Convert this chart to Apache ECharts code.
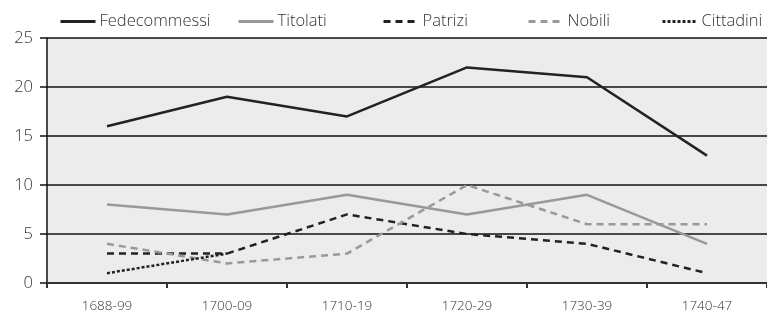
<!DOCTYPE html>
<html><head><meta charset="utf-8">
<script src="https://cdn.jsdelivr.net/npm/echarts@6/dist/echarts.min.js"></script>
<style>html,body{margin:0;padding:0;background:#fff}#c{width:767px;height:314px}</style>
</head><body><div id="c"></div>
<script>
const categories = ['1688-99','1700-09','1710-19','1720-29','1730-39','1740-47'];
const fedecommessi = [16, 19, 17, 22, 21, 13];
const titolati = [8, 7, 9, 7, 9, 4];
const patrizi = [3, 3, 7, 5, 4, 1];
const nobili = [4, 2, 3, 10, 6, 6];
const cittadini = [1, 3, null, null, null, null];
const yTicks = [0, 5, 10, 15, 20, 25];

const names = ['Fedecommessi','Titolati','Patrizi','Nobili','Cittadini'];
const legendLeft = [54, 232, 377, 522, 656];
const font = 'Open Sans';

function mk(name, data, color, type) {
  return { name, type: 'line', data, symbol: 'none', connectNulls: false,
    lineStyle: { color, width: 2.5, type }, itemStyle: { color } };
}
const chart = echarts.init(document.getElementById('c'));
chart.setOption({
  animation: false,
  backgroundColor: '#fff',
  legend: names.map((n, i) => ({
    data: [n], left: legendLeft[i], top: 8, itemWidth: 35, itemHeight: 10, itemGap: 0,
    itemStyle: { opacity: 0 },
    lineStyle: { width: 3 },
    textStyle: { fontFamily: font, fontSize: 16.5, fontWeight: 300, color: '#333', padding: [0,0,0,-1] }
  })),
  grid: { left: 47, top: 38, width: 726, height: 245, backgroundColor: '#ececec', show: true, borderWidth: 0 },
  xAxis: {
    type: 'category', data: categories, boundaryGap: true,
    axisLine: { lineStyle: { color: '#333', width: 2 } },
    axisTick: { show: true, length: 5, lineStyle: { color: '#333', width: 2 } },
    axisLabel: { fontFamily: font, fontSize: 13.5, fontWeight: 300, color: '#333', margin: 16 },
    splitLine: { show: false }
  },
  yAxis: {
    type: 'value', min: yTicks[0], max: yTicks[yTicks.length-1], interval: 5,
    axisLine: { show: true, lineStyle: { color: '#111', width: 1.5 } },
    axisTick: { show: true, length: 7, lineStyle: { color: '#111', width: 1.5 } },
    axisLabel: { fontFamily: font, fontSize: 16.5, fontWeight: 300, color: '#333', margin: 14 },
    splitLine: { show: true, lineStyle: { color: '#111', width: 1.5 } }
  },
  series: [
    mk('Fedecommessi', fedecommessi, '#222', 'solid'),
    mk('Titolati', titolati, '#999', 'solid'),
    mk('Patrizi', patrizi, '#222', [7, 5]),
    mk('Nobili', nobili, '#999', [7, 5]),
    mk('Cittadini', cittadini, '#222', [3, 2])
  ]
});
</script></body></html>
